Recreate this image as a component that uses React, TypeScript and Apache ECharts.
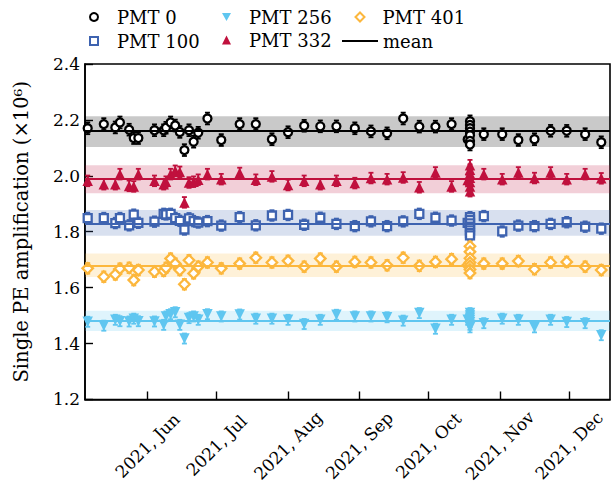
import React, { useEffect, useRef } from "react";
import * as echarts from "echarts";

const dates = [
  "2021-05-06", "2021-05-13", "2021-05-18", "2021-05-20", "2021-05-24", "2021-05-26", "2021-05-28",
  "2021-06-04", "2021-06-08", "2021-06-09", "2021-06-11", "2021-06-13", "2021-06-15", "2021-06-17",
  "2021-06-19", "2021-06-21", "2021-06-23", "2021-06-27", "2021-07-03", "2021-07-11", "2021-07-18",
  "2021-07-25", "2021-08-01", "2021-08-08", "2021-08-15", "2021-08-22", "2021-08-30", "2021-09-06",
  "2021-09-13", "2021-09-20", "2021-09-27", "2021-10-04", "2021-10-11", "2021-10-18",
  "2021-10-19", "2021-10-19", "2021-10-19", "2021-10-19", "2021-10-19", "2021-10-19", "2021-10-19",
  "2021-10-25", "2021-11-02", "2021-11-09", "2021-11-16", "2021-11-23", "2021-11-30", "2021-12-08",
  "2021-12-15",
];

const pmt0 = [
  2.170, 2.185, 2.173, 2.191, 2.165, 2.135, 2.135, 2.163, 2.163, 2.172, 2.191, 2.180, 2.157, 2.092,
  2.163, 2.122, 2.154, 2.205, 2.128, 2.185, 2.185, 2.131, 2.156, 2.179, 2.177, 2.177, 2.170, 2.159,
  2.152, 2.205, 2.176, 2.176, 2.185, 2.130, 2.195, 2.182, 2.170, 2.158, 2.145, 2.125, 2.112, 2.149,
  2.149, 2.128, 2.131, 2.161, 2.161, 2.149, 2.120,
];
const pmt100 = [
  1.849, 1.849, 1.831, 1.849, 1.823, 1.861, 1.832, 1.836, 1.864, 1.862, 1.864, 1.849, 1.839, 1.808,
  1.848, 1.838, 1.833, 1.838, 1.822, 1.852, 1.823, 1.858, 1.860, 1.825, 1.850, 1.828, 1.820, 1.837,
  1.820, 1.837, 1.864, 1.850, 1.840, 1.832, 1.852, 1.842, 1.830, 1.818, 1.805, 1.795, 1.787, 1.856,
  1.801, 1.822, 1.820, 1.828, 1.834, 1.818, 1.811,
];
const pmt256 = [
  1.478, 1.464, 1.485, 1.480, 1.479, 1.489, 1.480, 1.479, 1.467, 1.497, 1.505, 1.512, 1.467, 1.418,
  1.491, 1.497, 1.485, 1.505, 1.497, 1.504, 1.489, 1.489, 1.485, 1.470, 1.485, 1.503, 1.497, 1.497,
  1.494, 1.482, 1.509, 1.453, 1.485, 1.485, 1.509, 1.500, 1.492, 1.484, 1.476, 1.467, 1.458, 1.473,
  1.489, 1.485, 1.458, 1.485, 1.477, 1.473, 1.430,
];
const pmt332 = [
  1.982, 1.970, 1.970, 2.006, 1.964, 1.962, 2.006, 1.982, 1.970, 1.979, 2.006, 2.018, 2.014, 1.905,
  1.976, 1.979, 1.986, 2.006, 1.988, 2.010, 1.986, 1.998, 1.967, 1.982, 1.970, 1.982, 1.974, 1.992,
  1.988, 1.994, 1.959, 2.012, 1.962, 1.985, 2.038, 2.022, 2.008, 1.993, 1.978, 1.962, 1.945, 2.006,
  1.988, 2.012, 1.992, 2.012, 1.988, 2.006, 1.991,
];
const pmt401 = [
  1.669, 1.639, 1.647, 1.668, 1.671, 1.627, 1.663, 1.657, 1.660, 1.671, 1.704, 1.686, 1.663, 1.612,
  1.698, 1.651, 1.675, 1.690, 1.669, 1.686, 1.707, 1.690, 1.696, 1.675, 1.704, 1.675, 1.692, 1.690,
  1.680, 1.707, 1.678, 1.692, 1.702, 1.680, 1.748, 1.728, 1.705, 1.690, 1.678, 1.665, 1.652, 1.686,
  1.686, 1.695, 1.666, 1.690, 1.692, 1.675, 1.663,
];

const seriesNames = ["PMT 0", "PMT 100", "PMT 256", "PMT 332", "PMT 401"];
const seriesMeans = [2.158, 1.832, 1.481, 1.988, 1.680];
const seriesBands = [0.055, 0.046, 0.036, 0.050, 0.042];
const seriesErrors = [0.021, 0.019, 0.018, 0.019, 0.019];
const monthTicks = ["2021-06-01", "2021-07-01", "2021-08-01", "2021-09-01", "2021-10-01", "2021-11-01", "2021-12-01"];
const monthNames = ["Jan", "Feb", "Mar", "Apr", "May", "Jun", "Jul", "Aug", "Sep", "Oct", "Nov", "Dec"];

const colors = ["#000000", "#3e63b0", "#5fc6f0", "#c0103d", "#fcb73d"];
const bandColors = [
  "rgba(0,0,0,0.21)",
  "rgba(62,99,176,0.2)",
  "rgba(95,198,240,0.2)",
  "rgba(192,16,61,0.2)",
  "rgba(252,183,61,0.2)",
];
const FONT = "DejaVu Serif";
const DOWN_TRIANGLE = "path://M0,0L10,0L5,9Z";

export default function App() {
  const ref = useRef<HTMLDivElement>(null);
  useEffect(() => {
    if (!ref.current) return;
    const chart = echarts.init(ref.current, undefined, { renderer: "svg" });
    const ts = dates.map((d) => new Date(d + "T00:00:00Z").getTime());
    const allValues = [pmt0, pmt100, pmt256, pmt332, pmt401];
    const symbols = [
      { symbol: "circle", size: 8, rotate: 0, fill: "#ffffff", border: 2.3 },
      { symbol: "rect", size: 8, rotate: 0, fill: "#ffffff", border: 2.3 },
      { symbol: "triangle", size: 10.5, rotate: 180, fill: null, border: 0 },
      { symbol: "triangle", size: 10.5, rotate: 0, fill: null, border: 0 },
      { symbol: "diamond", size: 10.5, rotate: 0, fill: "#ffffff", border: 2.3 },
    ];
    const series: any[] = [];
    allValues.forEach((vals, k) => {
      const color = colors[k];
      const m = seriesMeans[k];
      const b = seriesBands[k];
      const e = seriesErrors[k];
      series.push({
        type: "custom",
        name: seriesNames[k] + " err",
        data: vals.map((v, i) => [ts[i], v - e, v + e]),
        encode: { x: 0, y: [1, 2] },
        z: 3,
        silent: true,
        renderItem: (params: any, api: any) => {
          const x = api.value(0);
          const p1 = api.coord([x, api.value(2)]);
          const p2 = api.coord([x, api.value(1)]);
          const w = 2.5;
          const st = { stroke: color, lineWidth: 1.8 };
          return {
            type: "group",
            children: [
              { type: "line", shape: { x1: p1[0], y1: p1[1], x2: p2[0], y2: p2[1] }, style: st },
              { type: "line", shape: { x1: p1[0] - w, y1: p1[1], x2: p1[0] + w, y2: p1[1] }, style: st },
              { type: "line", shape: { x1: p2[0] - w, y1: p2[1], x2: p2[0] + w, y2: p2[1] }, style: st },
            ],
          };
        },
      });
      const s = symbols[k];
      series.push({
        type: "scatter",
        name: seriesNames[k],
        data: vals.map((v, i) => [ts[i], v]),
        symbol: s.symbol,
        symbolSize: s.size,
        symbolRotate: s.rotate,
        z: 4,
        itemStyle: s.fill
          ? { color: s.fill, borderColor: color, borderWidth: s.border, opacity: 1 }
          : { color: color, opacity: 1 },
        markArea: {
          silent: true,
          itemStyle: { color: bandColors[k] },
          data: [[{ yAxis: m - b }, { yAxis: m + b }]],
        },
        markLine: {
          silent: true,
          symbol: "none",
          label: { show: false },
          lineStyle: { color: color, width: 1.8, type: "solid" },
          data: [{ yAxis: m }],
        },
      });
    });
    series.push({
      type: "line",
      name: "mean",
      data: [],
      symbol: "none",
      itemStyle: { color: "#000" },
      lineStyle: { color: "#000", width: 1.8 },
    });

    const legendBase = {
      orient: "vertical",
      top: 8,
      padding: 0,
      itemWidth: 8,
      itemHeight: 8,
      itemGap: 6,
      textStyle: { fontFamily: FONT, fontSize: 18, color: "#000", padding: [0, 0, 0, 14] },
      selectedMode: false,
    };

    const option: any = {
      animation: false,
      backgroundColor: "#ffffff",
      textStyle: { fontFamily: FONT },
      legend: [
        { ...legendBase, left: 89, data: ["PMT 0", "PMT 100"] },
        {
          ...legendBase,
          left: 222,
          itemWidth: 9,
          itemHeight: 9,
          itemGap: 5,
          symbolRotate: 0,
          textStyle: { fontFamily: FONT, fontSize: 18, color: "#000", padding: [0, 0, 0, 13] },
          data: [{ name: "PMT 256", icon: DOWN_TRIANGLE }, "PMT 332"],
        },
        {
          ...legendBase,
          left: 354.5,
          itemWidth: 9,
          itemHeight: 9,
          textStyle: { fontFamily: FONT, fontSize: 18, color: "#000", padding: [0, 0, 0, 13] },
          data: ["PMT 401"],
        },
        {
          ...legendBase,
          left: 341,
          top: 32,
          itemWidth: 36,
          textStyle: { fontFamily: FONT, fontSize: 18, color: "#000" },
          data: [{ name: "mean", itemStyle: { opacity: 0 } }],
        },
      ],
      grid: {
        left: 85,
        right: 4,
        top: 64,
        bottom: 84,
        show: true,
        borderColor: "#000",
        borderWidth: 1.6,
        backgroundColor: "transparent",
      },
      xAxis: {
        type: "value",
        min: Date.UTC(2021, 4, 4, 20),
        max: Date.UTC(2021, 11, 18, 19),
        splitLine: { show: false },
        axisLine: { show: true, lineStyle: { color: "#000", width: 1.6 } },
        axisTick: {
          show: true,
          inside: true,
          length: 8,
          lineStyle: { color: "#000", width: 1.4 },
          customValues: monthTicks.map((d) => new Date(d + "T00:00:00Z").getTime()),
        },
        axisLabel: {
          rotate: 45,
          align: "center",
          verticalAlign: "middle",
          margin: 46,
          fontFamily: FONT,
          fontSize: 17,
          color: "#000",
          customValues: monthTicks.map((d) => new Date(d + "T00:00:00Z").getTime()),
          formatter: (v: number) => "2021, " + monthNames[new Date(v).getUTCMonth()],
        },
      },
      yAxis: {
        type: "value",
        min: 1.2,
        max: 2.4,
        interval: 0.2,
        name: "Single PE amplification (×10⁶)",
        nameLocation: "middle",
        nameRotate: 90,
        nameGap: 54,
        nameTextStyle: { fontFamily: FONT, fontSize: 19.5, color: "#000" },
        splitLine: { show: false },
        axisLine: { show: true, lineStyle: { color: "#000", width: 1.6 } },
        axisTick: { show: true, inside: true, length: 8, lineStyle: { color: "#000", width: 1.4 } },
        axisLabel: {
          fontFamily: FONT,
          fontSize: 17,
          color: "#000",
          margin: 5,
          formatter: (v: number) => v.toFixed(1),
        },
      },
      series,
    };
    chart.setOption(option);
    return () => chart.dispose();
  }, []);
  return (
    <div
      ref={ref}
      style={{ position: "fixed", left: 0, top: 0, width: 614, height: 485, background: "#fff" }}
    />
  );
}
